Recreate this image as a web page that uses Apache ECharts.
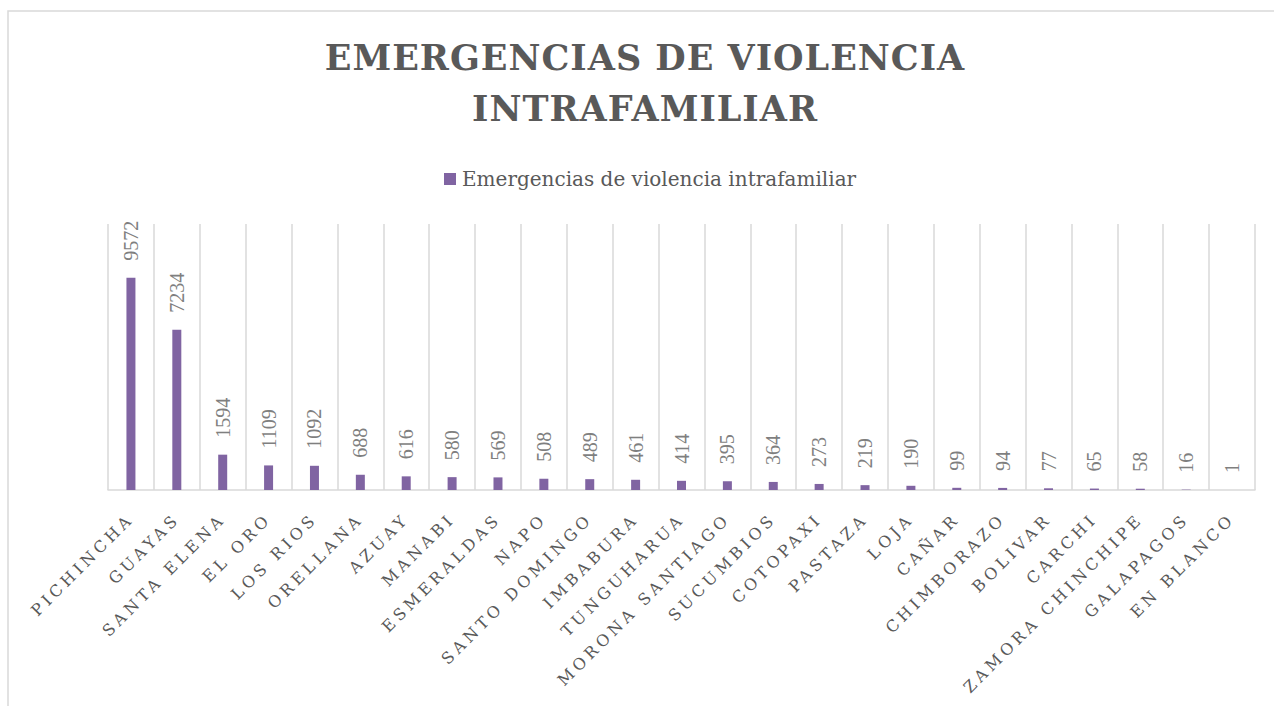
<!DOCTYPE html>
<html>
<head>
<meta charset="utf-8">
<script src="https://cdn.jsdelivr.net/npm/echarts@6/dist/echarts.min.js"></script>
<style>
  html, body { margin: 0; padding: 0; background: #fff; }
  #chart { width: 1274px; height: 706px; }
  #chart text[style*="35px"] { letter-spacing: 1px; }
  #chart text[style*="16px"] { letter-spacing: 4px; }
</style>
</head>
<body>
<div id="chart"></div>
<script>
const categories = ['PICHINCHA', 'GUAYAS', 'SANTA ELENA', 'EL ORO', 'LOS RIOS', 'ORELLANA', 'AZUAY', 'MANABI', 'ESMERALDAS', 'NAPO', 'SANTO DOMINGO', 'IMBABURA', 'TUNGUHARUA', 'MORONA SANTIAGO', 'SUCUMBIOS', 'COTOPAXI', 'PASTAZA', 'LOJA', 'CAÑAR', 'CHIMBORAZO', 'BOLIVAR', 'CARCHI', 'ZAMORA CHINCHIPE', 'GALAPAGOS', 'EN BLANCO'];
const values = [9572, 7234, 1594, 1109, 1092, 688, 616, 580, 569, 508, 489, 461, 414, 395, 364, 273, 219, 190, 99, 94, 77, 65, 58, 16, 1];
const seriesName = 'Emergencias de violencia intrafamiliar';
const titleText = 'EMERGENCIAS DE VIOLENCIA\nINTRAFAMILIAR';

const chart = echarts.init(document.getElementById('chart'), null, { renderer: 'svg' });
chart.setOption({
  animation: false,
  backgroundColor: '#ffffff',
  graphic: [{
    type: 'rect',
    shape: { x: 8, y: 11, width: 1400, height: 900 },
    style: { fill: 'none', stroke: '#d9d9d9', lineWidth: 1.5 },
    silent: true
  }],
  title: {
    text: titleText,
    left: 640,
    top: 27,
    textAlign: 'center',
    textStyle: {
      fontFamily: "'DejaVu Serif', serif",
      fontWeight: 'bold',
      fontSize: 35,
      lineHeight: 51,
      color: '#595959'
    }
  },
  legend: {
    left: 439,
    top: 164,
    itemWidth: 12,
    itemHeight: 12,
    itemGap: 6,
    icon: 'rect',
    textStyle: {
      fontFamily: "'DejaVu Serif', serif",
      fontSize: 20,
      color: '#595959',
      padding: [0, 0, 0, 1]
    },
    data: [seriesName]
  },
  grid: { left: 108, right: 19, top: 224, bottom: 216, containLabel: false },
  xAxis: {
    type: 'category',
    data: categories,
    boundaryGap: true,
    axisLine: { show: true, lineStyle: { color: '#d9d9d9', width: 1.5 } },
    axisTick: { show: false },
    splitLine: { show: true, interval: 0, lineStyle: { color: '#d9d9d9', width: 1.5 } },
    axisLabel: {
      interval: 0,
      rotate: 45,
      margin: 26,
      fontFamily: "'DejaVu Serif', serif",
      fontSize: 16,
      color: '#595959'
    }
  },
  yAxis: {
    type: 'value',
    min: 0,
    max: 12000,
    interval: 2000,
    show: false,
    splitLine: { show: false }
  },
  series: [{
    name: seriesName,
    type: 'bar',
    data: values,
    barWidth: 9,
    itemStyle: { color: '#8064a2' },
    label: {
      show: true,
      position: 'top',
      distance: 17,
      rotate: 90,
      align: 'left',
      verticalAlign: 'middle',
      fontFamily: "'Liberation Serif', serif",
      fontSize: 20,
      color: '#7f7f7f'
    }
  }]
});
</script>
</body>
</html>
